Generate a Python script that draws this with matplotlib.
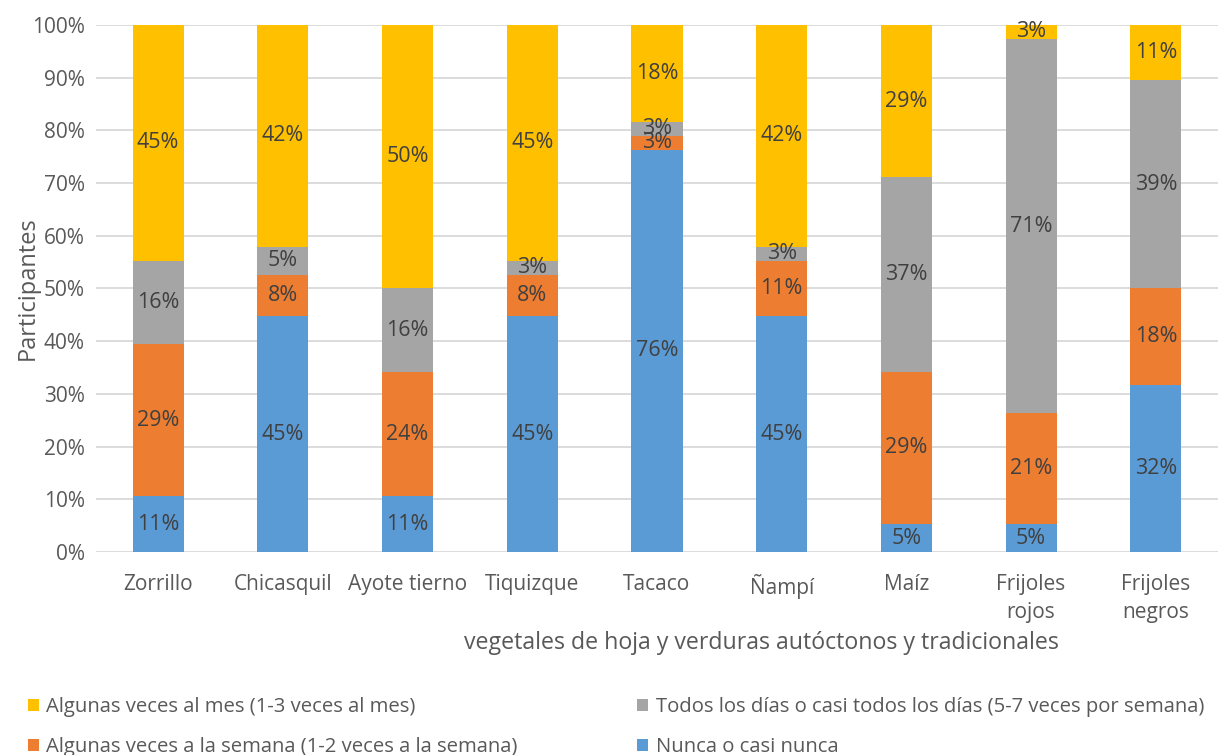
import numpy as np
import matplotlib
matplotlib.use("Agg")
import matplotlib.pyplot as plt
from matplotlib.ticker import PercentFormatter

plt.rcParams["font.family"] = ["Open Sans", "DejaVu Sans"]

CATEGORIES = ["Zorrillo", "Chicasquil", "Ayote tierno", "Tiquizque", "Tacaco",
              "Ñampí", "Maíz", "Frijoles\nrojos", "Frijoles\nnegros"]

# porcentajes de participantes por categoría (de abajo hacia arriba)
nunca = [10.53, 44.74, 10.53, 44.74, 76.32, 44.74, 5.26, 5.26, 31.58]
semana = [28.95, 7.89, 23.68, 7.89, 2.63, 10.53, 28.95, 21.05, 18.42]
diario = [15.79, 5.26, 15.79, 2.63, 2.63, 2.63, 36.84, 71.05, 39.47]
mes = [44.74, 42.11, 50.00, 44.74, 18.42, 42.11, 28.95, 2.63, 10.53]

SERIES = [
    ("Nunca o casi nunca", nunca, "#5B9BD5"),
    ("Algunas veces a la semana (1-2 veces a la semana)", semana, "#ED7D31"),
    ("Todos los días o casi todos los días (5-7 veces por semana)", diario, "#A5A5A5"),
    ("Algunas veces al mes (1-3 veces al mes)", mes, "#FFC000"),
]

TEXT = "#595959"
LABEL = "#404040"
FS = 15

fig = plt.figure(figsize=(12.28, 7.55), dpi=100)
ax = fig.add_axes([0.078, 0.269, 0.914, 0.698])

x = np.arange(len(CATEGORIES))
bottom = np.zeros(len(CATEGORIES))
handles = {}
for name, vals, color in SERIES:
    vals = np.array(vals)
    bars = ax.bar(x, vals, 0.41, bottom=bottom, color=color, label=name, zorder=2)
    handles[name] = bars
    for xi, b, v in zip(x, bottom, vals):
        ax.text(xi, b + v / 2, f"{v:.0f}%", ha="center", va="center",
                fontsize=15.5, color=LABEL, zorder=3)
    bottom = bottom + vals

ax.set_xlim(-0.5, len(CATEGORIES) - 0.5)
ax.set_ylim(0, 100)
ax.set_yticks(np.arange(0, 101, 10))
ax.yaxis.set_major_formatter(PercentFormatter(decimals=0))
ax.set_xticks(x)
ax.set_xticklabels(CATEGORIES, linespacing=1.4)
ax.grid(axis="y", color="#D9D9D9", linewidth=1.3, zorder=0)
for s in ax.spines.values():
    s.set_visible(False)
ax.tick_params(length=0, colors=TEXT, labelsize=FS)
ax.tick_params(axis="x", pad=16)
ax.tick_params(axis="y", pad=8)

ax.set_ylabel("Participantes", fontsize=17, color=TEXT)
ax.yaxis.set_label_coords(-0.05, 0.5)
ax.set_xlabel("vegetales de hoja y verduras autóctonos y tradicionales",
              fontsize=16.7, color=TEXT)
ax.xaxis.set_label_coords(0.593, -0.150)

order = [
    "Algunas veces al mes (1-3 veces al mes)",
    "Algunas veces a la semana (1-2 veces a la semana)",
    "Todos los días o casi todos los días (5-7 veces por semana)",
    "Nunca o casi nunca",
]
leg = fig.legend([handles[n] for n in order], order, ncol=2, loc="lower left",
                 bbox_to_anchor=(0.008, -0.027), frameon=False, fontsize=14.6,
                 handlelength=0.55, handleheight=0.55, handletextpad=0.35,
                 columnspacing=5.9, labelspacing=1.0, labelcolor=TEXT)

fig.savefig("out.png", dpi=100)
